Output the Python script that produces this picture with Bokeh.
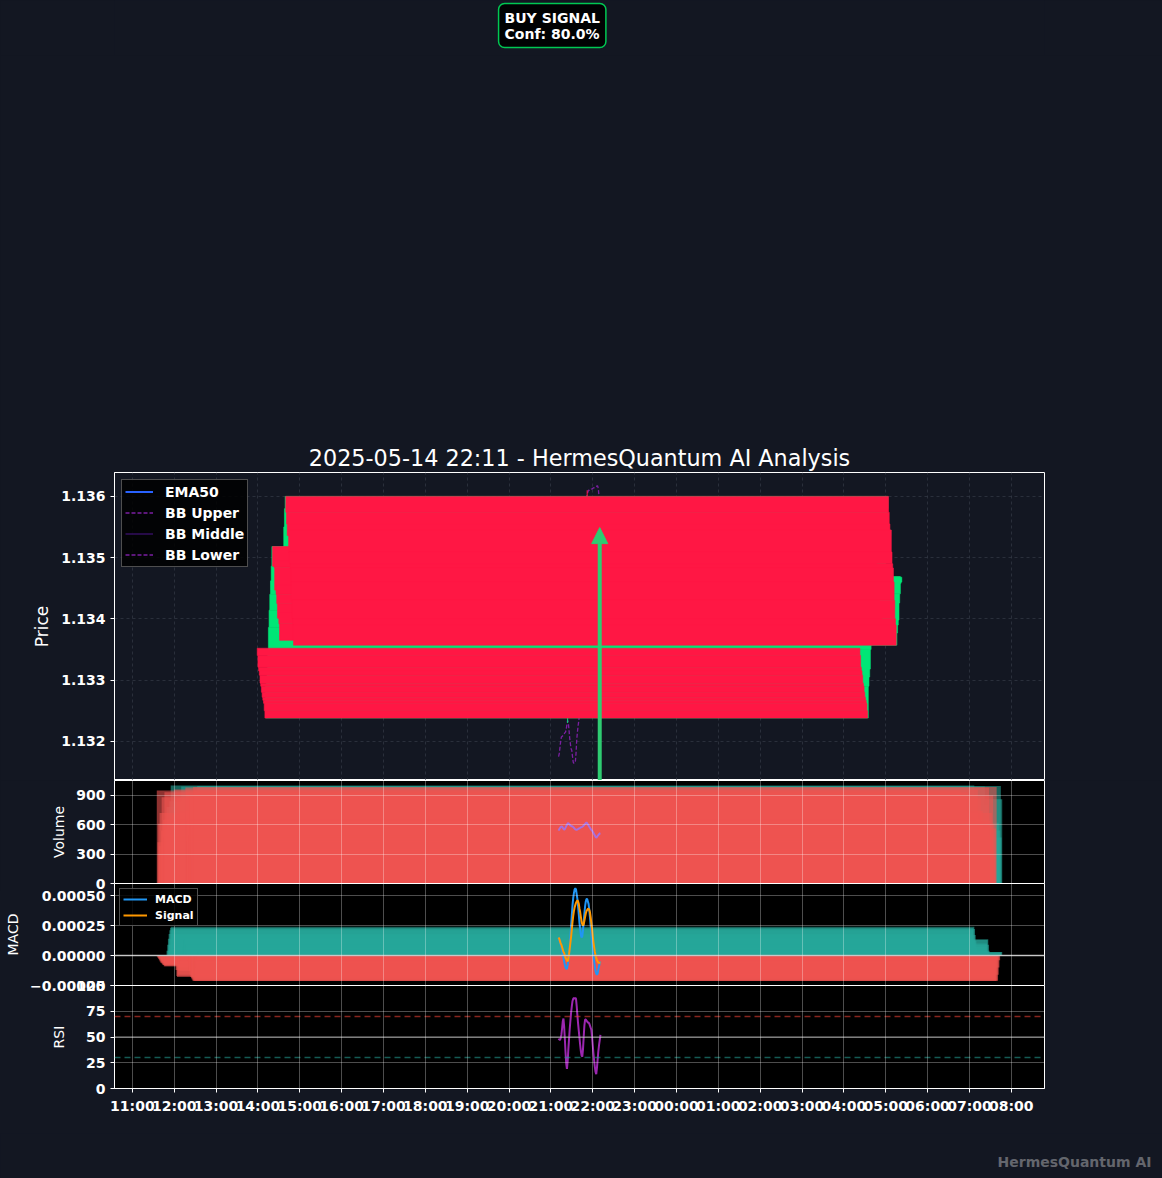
import datetime as dt
from bokeh.plotting import figure
from bokeh.layouts import column
from bokeh.models import (Range1d, FixedTicker, DatetimeTickFormatter, CustomJSTickFormatter,
                          PrintfTickFormatter, Label, Arrow, NormalHead, Span, ColumnDataSource)
from bokeh.embed import file_html
from bokeh.resources import INLINE

# ---------------- data ----------------
START = dt.datetime(2025, 5, 14, 21, 11)
N_BARS = 61
times = [START + dt.timedelta(minutes=i) for i in range(N_BARS)]

opens = [1.13352, 1.13340, 1.13321, 1.13315, 1.13308, 1.13295, 1.13290, 1.13280, 1.13272, 1.13267,
         1.13262, 1.13250, 1.13238, 1.13290, 1.13305, 1.13318, 1.13350, 1.13386, 1.13414, 1.13440,
         1.13462, 1.13486, 1.13518, 1.13486, 1.13495, 1.13484, 1.13447, 1.13456, 1.13440, 1.13425,
         1.13401, 1.13410, 1.13392, 1.13365, 1.13390, 1.13420, 1.13455, 1.13490, 1.13515, 1.13550,
         1.13580, 1.13600, 1.13574, 1.13555, 1.13536, 1.13545, 1.13509, 1.13490, 1.13483, 1.13460,
         1.13430, 1.13400, 1.13390, 1.13357, 1.13377, 1.13390, 1.13398, 1.13426, 1.13441, 1.13458,
         1.13460]
closes = [1.13340, 1.13321, 1.13315, 1.13308, 1.13295, 1.13290, 1.13280, 1.13272, 1.13267, 1.13262,
          1.13250, 1.13238, 1.13290, 1.13305, 1.13318, 1.13350, 1.13386, 1.13414, 1.13440, 1.13462,
          1.13486, 1.13518, 1.13486, 1.13495, 1.13484, 1.13447, 1.13456, 1.13440, 1.13425, 1.13401,
          1.13410, 1.13392, 1.13365, 1.13390, 1.13420, 1.13455, 1.13490, 1.13515, 1.13550, 1.13580,
          1.13600, 1.13574, 1.13555, 1.13536, 1.13545, 1.13509, 1.13490, 1.13483, 1.13460, 1.13430,
          1.13400, 1.13390, 1.13357, 1.13377, 1.13390, 1.13398, 1.13426, 1.13441, 1.13469, 1.13466,
          1.13468]
highs = [1.13356, 1.13344, 1.13324, 1.13318, 1.13311, 1.13298, 1.13293, 1.13283, 1.13275, 1.13270,
         1.13265, 1.13253, 1.13293, 1.13308, 1.13321, 1.13353, 1.13389, 1.13417, 1.13443, 1.13465,
         1.13489, 1.13521, 1.13522, 1.13498, 1.13498, 1.13487, 1.13459, 1.13459, 1.13443, 1.13428,
         1.13413, 1.13413, 1.13395, 1.13393, 1.13423, 1.13458, 1.13493, 1.13518, 1.13553, 1.13583,
         1.13600, 1.13610, 1.13577, 1.13558, 1.13548, 1.13548, 1.13512, 1.13493, 1.13486, 1.13463,
         1.13433, 1.13403, 1.13393, 1.13380, 1.13393, 1.13401, 1.13429, 1.13444, 1.13470, 1.13469,
         1.13469]
lows = [1.13338, 1.13319, 1.13313, 1.13306, 1.13293, 1.13288, 1.13278, 1.13270, 1.13265, 1.13260,
        1.13248, 1.13238, 1.13238, 1.13230, 1.13302, 1.13315, 1.13348, 1.13383, 1.13411, 1.13437,
        1.13459, 1.13483, 1.13484, 1.13483, 1.13481, 1.13445, 1.13444, 1.13438, 1.13422, 1.13398,
        1.13398, 1.13389, 1.13362, 1.13362, 1.13387, 1.13417, 1.13452, 1.13487, 1.13512, 1.13547,
        1.13577, 1.13571, 1.13552, 1.13533, 1.13533, 1.13506, 1.13487, 1.13480, 1.13457, 1.13427,
        1.13397, 1.13387, 1.13354, 1.13354, 1.13374, 1.13387, 1.13395, 1.13423, 1.13438, 1.13455,
        1.13457]

ema50 = [1.13410, 1.13409, 1.13408, 1.13407, 1.13406, 1.13404, 1.13403, 1.13401, 1.13400, 1.13398,
         1.13396, 1.13394, 1.13393, 1.13392, 1.13391, 1.13391, 1.13391, 1.13392, 1.13393, 1.13395,
         1.13397, 1.13400, 1.13403, 1.13406, 1.13408, 1.13410, 1.13412, 1.13413, 1.13414, 1.13415,
         1.13415, 1.13416, 1.13416, 1.13416, 1.13417, 1.13418, 1.13421, 1.13424, 1.13428, 1.13433,
         1.13438, 1.13442, 1.13446, 1.13449, 1.13452, 1.13454, 1.13456, 1.13457, 1.13458, 1.13458,
         1.13457, 1.13456, 1.13454, 1.13452, 1.13451, 1.13450, 1.13449, 1.13449, 1.13450, 1.13450,
         1.13450]
bb_upper = [1.13420, 1.13418, 1.13416, 1.13414, 1.13412, 1.13410, 1.13408, 1.13406, 1.13404, 1.13402,
            1.13400, 1.13399, 1.13398, 1.13397, 1.13396, 1.13395, 1.13405, 1.13415, 1.13425, 1.13438,
            1.13450, 1.13465, 1.13480, 1.13495, 1.13508, 1.13520, 1.13522, 1.13524, 1.13526, 1.13528,
            1.13530, 1.13532, 1.13534, 1.13536, 1.13538, 1.13540, 1.13548, 1.13556, 1.13570, 1.13585,
            1.13598, 1.13603, 1.13607, 1.13610, 1.13610, 1.13611, 1.13611, 1.13612, 1.13612, 1.13613,
            1.13614, 1.13614, 1.13615, 1.13616, 1.13616, 1.13617, 1.13617, 1.13612, 1.13600, 1.13590,
            1.13582]
bb_middle = [1.13300, 1.13299, 1.13303, 1.13307, 1.13310, 1.13309, 1.13308, 1.13308, 1.13308, 1.13308,
             1.13308, 1.13310, 1.13313, 1.13316, 1.13313, 1.13307, 1.13305, 1.13305, 1.13307, 1.13312,
             1.13313, 1.13316, 1.13322, 1.13330, 1.13337, 1.13350, 1.13362, 1.13370, 1.13376, 1.13381,
             1.13388, 1.13394, 1.13398, 1.13403, 1.13408, 1.13410, 1.13418, 1.13425, 1.13435, 1.13443,
             1.13449, 1.13454, 1.13456, 1.13458, 1.13459, 1.13460, 1.13460, 1.13461, 1.13462, 1.13463,
             1.13467, 1.13467, 1.13468, 1.13468, 1.13467, 1.13466, 1.13466, 1.13463, 1.13457, 1.13452,
             1.13446]
bb_lower = [1.13175, 1.13180, 1.13190, 1.13200, 1.13207, 1.13208, 1.13209, 1.13210, 1.13212, 1.13214,
            1.13215, 1.13220, 1.13228, 1.13234, 1.13230, 1.13218, 1.13205, 1.13195, 1.13188, 1.13185,
            1.13175, 1.13166, 1.13164, 1.13165, 1.13166, 1.13180, 1.13202, 1.13215, 1.13225, 1.13234,
            1.13245, 1.13255, 1.13262, 1.13270, 1.13275, 1.13280, 1.13288, 1.13294, 1.13300, 1.13300,
            1.13300, 1.13304, 1.13306, 1.13308, 1.13309, 1.13310, 1.13310, 1.13311, 1.13313, 1.13314,
            1.13320, 1.13320, 1.13320, 1.13319, 1.13318, 1.13315, 1.13314, 1.13313, 1.13313, 1.13313,
            1.13310]

volumes = [950, 420, 610, 380, 720, 300, 540, 880, 260, 650,
           470, 930, 560, 340, 780, 450, 620, 290, 840, 510,
           1000, 380, 700, 230, 590, 960, 410, 650, 330, 870,
           520, 250, 740, 610, 450, 990, 370, 680, 220, 560,
           800, 980, 430, 640, 310, 720, 490, 900, 350, 610,
           270, 560, 985, 400, 230, 620, 310, 540, 995, 470,
           860]
vol_ma = [540, 555, 565, 575, 580, 582, 570, 558, 548, 555,
          570, 585, 600, 612, 615, 608, 600, 592, 587, 583,
          582, 575, 568, 560, 553, 549, 548, 552, 556, 560,
          565, 568, 572, 575, 578, 585, 592, 600, 608, 615,
          622, 615, 605, 592, 580, 568, 556, 548, 540, 528,
          515, 502, 490, 478, 466, 475, 485, 495, 503, 510,
          513]

macd = [0.00015, 0.00013, 0.00011, 0.00009, 0.00007, 0.00004, 0.00001, -0.00002, -0.00005, -0.00008,
        -0.00010, -0.00011, -0.00011, -0.00008, -0.00004, 0.00001, 0.00008, 0.00016, 0.00025, 0.00034,
        0.00042, 0.00048, 0.00052, 0.00055, 0.00056, 0.00055, 0.00051, 0.00047, 0.00041, 0.00034,
        0.00027, 0.00022, 0.00017, 0.00015, 0.00016, 0.00021, 0.00028, 0.00035, 0.00041, 0.00045,
        0.00047, 0.00047, 0.00045, 0.00043, 0.00038, 0.00032, 0.00025, 0.00018, 0.00011, 0.00005,
        0.00000, -0.00005, -0.00009, -0.00013, -0.00015, -0.00016, -0.00015, -0.00012, -0.00009, -0.00006,
        -0.00005]
signal = [0.00015, 0.00014, 0.00012, 0.00010, 0.00009, 0.00007, 0.00005, 0.00003, 0.00002, 0.00000,
          -0.00002, -0.00003, -0.00004, -0.00005, -0.00003, 0.00001, 0.00006, 0.00011, 0.00016, 0.00022,
          0.00028, 0.00033, 0.00037, 0.00040, 0.00042, 0.00044, 0.00045, 0.00046, 0.00045, 0.00043,
          0.00039, 0.00036, 0.00032, 0.00028, 0.00026, 0.00025, 0.00026, 0.00029, 0.00032, 0.00035,
          0.00037, 0.00038, 0.00039, 0.00039, 0.00038, 0.00036, 0.00032, 0.00027, 0.00022, 0.00016,
          0.00011, 0.00007, 0.00003, 0.00000, -0.00002, -0.00004, -0.00005, -0.00006, -0.00006, -0.00006,
          -0.00006]
hist = [-0.00001, -0.00002, -0.00003, -0.00004, -0.00005, -0.00006, -0.00006, -0.00007, -0.00008, -0.00008,
        -0.00009, -0.00009, -0.00007, -0.00003, 0.00004, 0.00009, 0.00014, 0.00018, 0.00021, 0.00023,
        0.00024, 0.00022, 0.00017, 0.00012, 0.00006, 0.00001, -0.00006, -0.00012, -0.00017, -0.00018,
        -0.00016, -0.00013, -0.00010, -0.00007, -0.00004, -0.00001, 0.00003, 0.00007, 0.00010, 0.00013,
        0.000135, 0.00009, 0.00004, 0.00001, -0.00004, -0.00009, -0.00013, -0.00016, -0.00018, -0.00019,
        -0.00020, -0.00021, -0.00021, -0.00021, -0.00021, -0.00016, -0.00010, -0.00004, 0.00002, 0.00003,
        0.00003]
rsi = [47, 48, 47, 49, 52, 58, 65, 68, 60, 48,
       35, 24, 19, 26, 38, 48, 58, 66, 74, 80,
       85, 87, 88, 87, 88, 87, 80, 71, 63, 56,
       49, 42, 36, 32, 31, 38, 50, 61, 67, 67,
       66, 65, 64, 64, 63, 61, 59, 57, 50, 42,
       34, 27, 21, 16, 14, 20, 28, 36, 42, 47,
       52]

signal_time = dt.datetime(2025, 5, 14, 22, 10)
signal_price = 1.13549
signal_text = "BUY SIGNAL\nConf: 80.0%"
title_text = "2025-05-14 22:11 - HermesQuantum AI Analysis"
watermark = "HermesQuantum AI"
hour_ticks = [dt.datetime(2025, 5, 14, 11) + dt.timedelta(hours=h) for h in range(22)]
price_ticks = [1.132, 1.133, 1.134, 1.135, 1.136]
vol_ticks = [0, 300, 600, 900]
macd_ticks = [-0.00025, 0.0, 0.00025, 0.0005]
rsi_ticks = [0, 25, 50, 75, 100]

# ---------------- style ----------------
BG = "#131722"
FONT = "DejaVu Sans"
GREEN = "#00E676"
RED = "#FF1744"
VOL_G = "#26A69A"
VOL_R = "#EF5350"
DAY_MS = 86400000.0
CANDLE_W = 0.6 * DAY_MS
BAR_W = 0.8 * DAY_MS
EDGE = 8  # overlap band so edge tick labels are not cut


def ms(d):
    return (d - dt.datetime(1970, 1, 1)).total_seconds() * 1000.0


hour_ms = [ms(h) for h in hour_ticks]

span_lo = ms(times[0]) - BAR_W / 2
span_hi = ms(times[-1]) + BAR_W / 2
pad = 0.05 * (span_hi - span_lo)
x_range = Range1d(span_lo - pad, span_hi + pad)


def base_fig(height, y_range, top=0, bottom=0, frame_bg="black"):
    p = figure(width=1162, height=height, x_axis_type="datetime", x_range=x_range, y_range=y_range,
               output_backend="svg", toolbar_location=None,
               min_border_left=114, min_border_right=118, min_border_top=top, min_border_bottom=bottom)
    p.background_fill_color = frame_bg
    p.border_fill_color = BG
    p.outline_line_color = "white"
    p.outline_line_width = 1
    for ax in p.yaxis:
        ax.major_label_text_font = FONT
        ax.major_label_text_font_style = "bold"
        ax.major_label_text_font_size = "14px"
        ax.major_label_text_color = "white"
        ax.axis_line_color = "white"
        ax.major_tick_line_color = "white"
        ax.major_tick_out = 4
        ax.major_tick_in = 0
        ax.minor_tick_line_color = None
        ax.axis_label_text_font = FONT
        ax.axis_label_text_font_style = "normal"
        ax.axis_label_text_color = "white"
        ax.axis_label_text_font_size = "14px"
        ax.axis_label_standoff = 6
    p.xaxis.ticker = FixedTicker(ticks=hour_ms)
    p.xgrid.ticker = FixedTicker(ticks=hour_ms)
    return p


def lower_grid(p):
    for g in (p.xgrid, p.ygrid):
        g.grid_line_color = "white"
        g.grid_line_alpha = 0.3
        g.grid_line_width = 1
        g.level = "overlay"


def blank_fig(height, xr, yr, left, right):
    p = figure(width=1162, height=height, x_range=xr, y_range=yr, output_backend="svg",
               toolbar_location=None, x_axis_location=None, y_axis_location=None,
               min_border_left=left, min_border_right=right, min_border_top=0, min_border_bottom=0)
    p.grid.visible = False
    p.outline_line_color = None
    p.background_fill_color = BG
    p.border_fill_color = BG
    return p


# ---------------- signal box (top strip) ----------------
p0 = blank_fig(55, x_range, Range1d(55, 0), 114, 118)
p0.add_layout(Label(x=dt.datetime(2025, 5, 14, 19, 45), y=3, text=signal_text,
                    text_font=FONT, text_font_style="bold", text_font_size="14px", text_color="white",
                    text_line_height=1.0, anchor="top_left", background_fill_color="black",
                    background_fill_alpha=0.9, border_line_color="#00C853", border_line_width=1.5,
                    padding=6, border_radius=6))

# ---------------- price panel ----------------
p1 = base_fig(725, Range1d(1.13136, 1.13639), top=417, bottom=0, frame_bg=BG)
p1.xaxis.visible = False
p1.yaxis.ticker = FixedTicker(ticks=price_ticks)
p1.yaxis.formatter = PrintfTickFormatter(format="%.3f")
p1.yaxis.axis_label = "Price"
p1.yaxis.axis_label_text_font_size = "17px"
for g in (p1.xgrid, p1.ygrid):
    g.grid_line_color = "#3a3f4d"
    g.grid_line_alpha = 0.6
    g.grid_line_dash = "3 3"
    g.grid_line_width = 1
p1.title.text = title_text
p1.title.align = "center"
p1.title.text_color = "white"
p1.title.text_font = FONT
p1.title.text_font_style = "normal"
p1.title.text_font_size = "22.3px"
p1.title.standoff = 4

p1.line(times, ema50, line_color="#2962FF", line_width=2, legend_label="EMA50")
p1.line(times, bb_upper, line_color="#7B1FA2", line_width=1.3, line_dash="4 2", legend_label="BB Upper")
p1.line(times, bb_middle, line_color="#4A148C", line_width=1, legend_label="BB Middle")
p1.line(times, bb_lower, line_color="#7B1FA2", line_width=1.3, line_dash="4 2", legend_label="BB Lower")

up = [c >= o for o, c in zip(opens, closes)]
wick_colors = [GREEN if u else RED for u in up]
p1.segment(x0=times, y0=lows, x1=times, y1=highs, line_color=wick_colors, line_width=1)

g_src = ColumnDataSource(dict(x=[t for t, u in zip(times, up) if u],
                              top=[c for c, u in zip(closes, up) if u],
                              bottom=[o for o, u in zip(opens, up) if u]))
r_src = ColumnDataSource(dict(x=[t for t, u in zip(times, up) if not u],
                              top=[o for o, u in zip(opens, up) if not u],
                              bottom=[c for c, u in zip(closes, up) if not u]))
p1.vbar(x="x", top="top", bottom="bottom", width=CANDLE_W, source=g_src, fill_color=GREEN,
        line_color=GREEN, line_width=0.6)
p1.vbar(x="x", top="top", bottom="bottom", width=CANDLE_W, source=r_src, fill_color=RED,
        line_color=RED, line_width=0.6)

p1.add_layout(Arrow(end=NormalHead(size=16, fill_color="#2ecc71", line_color="#2ecc71"),
                    x_start=signal_time, y_start=1.1300, x_end=signal_time, y_end=signal_price,
                    line_color="#2ecc71", line_width=4))

lg = p1.legend[0]
lg.location = "top_left"
lg.margin = 7
lg.padding = 3
lg.spacing = 4
lg.label_height = 17
lg.glyph_height = 17
lg.glyph_width = 28
lg.label_standoff = 12
lg.background_fill_color = "black"
lg.background_fill_alpha = 0.85
lg.border_line_color = "#9a9a9a"
lg.label_text_color = "white"
lg.label_text_font = FONT
lg.label_text_font_style = "bold"
lg.label_text_font_size = "14px"

# ---------------- volume panel ----------------
p2 = base_fig(103 + EDGE, Range1d(0, 1051), bottom=EDGE)
p2.xaxis.visible = False
p2.yaxis.ticker = FixedTicker(ticks=vol_ticks)
p2.yaxis.axis_label = "Volume"
lower_grid(p2)
vg = ColumnDataSource(dict(x=[t for t, u in zip(times, up) if u], v=[v for v, u in zip(volumes, up) if u]))
vr = ColumnDataSource(dict(x=[t for t, u in zip(times, up) if not u], v=[v for v, u in zip(volumes, up) if not u]))
p2.vbar(x="x", top="v", bottom=0, width=BAR_W, source=vg, fill_color=VOL_G, fill_alpha=0.6, line_color=None)
p2.vbar(x="x", top="v", bottom=0, width=BAR_W, source=vr, fill_color=VOL_R, fill_alpha=0.6, line_color=None)
p2.line(times, vol_ma, line_color="#a86fdc", line_width=2)
p2.margin = (0, 0, -EDGE, 0)
p2.styles = {"z-index": "1"}

# ---------------- MACD panel ----------------
p3 = base_fig(102 + EDGE, Range1d(-0.00025, 0.0006), bottom=EDGE)
p3.border_fill_alpha = 0
p3.xaxis.visible = False
p3.yaxis.ticker = FixedTicker(ticks=macd_ticks)
p3.yaxis.formatter = CustomJSTickFormatter(code="return tick.toFixed(5).replace('-', '\\u2212');")
p3.yaxis.axis_label = "MACD"
lower_grid(p3)
hp = ColumnDataSource(dict(x=[t for t, h in zip(times, hist) if h >= 0], h=[h for h in hist if h >= 0]))
hn = ColumnDataSource(dict(x=[t for t, h in zip(times, hist) if h < 0], h=[h for h in hist if h < 0]))
p3.vbar(x="x", top="h", bottom=0, width=BAR_W, source=hp, fill_color=VOL_G, fill_alpha=0.6, line_color=None)
p3.vbar(x="x", top="h", bottom=0, width=BAR_W, source=hn, fill_color=VOL_R, fill_alpha=0.6, line_color=None)
p3.add_layout(Span(location=0, dimension="width", line_color="#b0b0b0", line_width=1.5))
p3.line(times, macd, line_color="#2196F3", line_width=2, legend_label="MACD")
p3.line(times, signal, line_color="#FF9800", line_width=2, legend_label="Signal")
lg3 = p3.legend[0]
lg3.location = "top_left"
lg3.margin = 5
lg3.padding = 3
lg3.spacing = 2
lg3.label_height = 14
lg3.glyph_height = 14
lg3.glyph_width = 24
lg3.label_standoff = 8
lg3.background_fill_color = "black"
lg3.background_fill_alpha = 0.85
lg3.border_line_color = "#9a9a9a"
lg3.label_text_color = "white"
lg3.label_text_font = FONT
lg3.label_text_font_style = "bold"
lg3.label_text_font_size = "11px"
p3.margin = (0, 0, -2 * EDGE, 0)
p3.styles = {"z-index": "2"}

# ---------------- RSI panel ----------------
p4 = base_fig(EDGE + 103 + 45, Range1d(0, 100), top=EDGE, bottom=45)
p4.border_fill_alpha = 0
p4.yaxis.ticker = FixedTicker(ticks=rsi_ticks)
p4.yaxis.axis_label = "RSI"
lower_grid(p4)
p4.xaxis.formatter = DatetimeTickFormatter(hours="%H:%M", hourmin="%H:%M", days="%H:%M", minutes="%H:%M")
xa = p4.xaxis[0]
xa.major_label_text_font = FONT
xa.major_label_text_font_style = "bold"
xa.major_label_text_font_size = "14px"
xa.major_label_text_color = "white"
xa.axis_line_color = "white"
xa.major_tick_line_color = "white"
xa.major_tick_out = 4
xa.major_tick_in = 0
xa.minor_tick_line_color = None
p4.add_layout(Span(location=70, dimension="width", line_color="#F44336", line_alpha=0.55,
                   line_width=1.5, line_dash="6 4"))
p4.add_layout(Span(location=30, dimension="width", line_color="#26A69A", line_alpha=0.55,
                   line_width=1.5, line_dash="6 4"))
p4.add_layout(Span(location=50, dimension="width", line_color="#9e9e9e", line_alpha=0.6, line_width=1.5))
p4.line(times, rsi, line_color="#9C27B0", line_width=2)
p4.styles = {"z-index": "3"}

# ---------------- watermark strip (own frame, not aligned with the panels) ----------------
p5 = blank_fig(45, Range1d(0, 1162), Range1d(45, 0), 0, 0)
p5.frame_align = False
p5.add_layout(Label(x=1151, y=28, text=watermark, text_font=FONT, text_font_style="bold",
                    text_font_size="14px", text_color="white", text_alpha=0.35, anchor="center_right"))

layout = column(p0, p1, p2, p3, p4, p5, spacing=0)
layout.styles = {"background-color": BG}
open("out.html", "w").write(file_html(layout, INLINE))
